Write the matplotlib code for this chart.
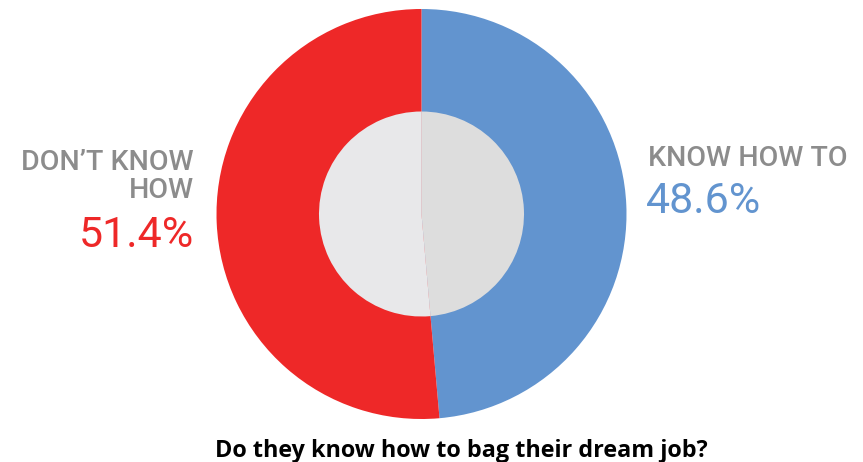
import matplotlib
matplotlib.use('Agg')
import matplotlib.pyplot as plt

labels = ["KNOW HOW TO", "DON\u2019T KNOW\nHOW"]
shares = [48.6, 51.4]
ring_colors = ["#6294CF", "#EE2828"]
hole_colors = ["#DDDDDD", "#E8E8EA"]
title = "Do they know how to bag their dream job?"

fig = plt.figure(figsize=(8.63, 4.62), dpi=100)
ax = fig.add_axes([0, 0, 1, 1])

cx, cy = 421.5, 214
# y axis is inverted below, so angles are mirrored: start at -90 going
# counter-clockwise in data space = top, clockwise on screen
ax.pie(shares, colors=ring_colors, startangle=-90, counterclock=True,
       radius=205, center=(cx, cy), frame=True,
       wedgeprops=dict(linewidth=0))
ax.pie(shares, colors=hole_colors, startangle=-90, counterclock=True,
       radius=102.5, center=(cx, cy), frame=True,
       wedgeprops=dict(linewidth=0))
ax.set_xlim(0, 863)
ax.set_ylim(462, 0)
ax.set_aspect('equal')
ax.axis('off')

gray = "#8C8C8C"
ax.text(648, 166, labels[0], color=gray, fontsize=20.5, family="Roboto",
        fontweight="medium", ha="left", va="baseline")
ax.text(646, 213, f"{shares[0]}%", color=ring_colors[0], fontsize=31,
        family="Roboto", ha="left", va="baseline")

ax.text(194, 198, labels[1], color=gray, fontsize=20.5, family="Roboto",
        fontweight="medium", ha="right", va="baseline", linespacing=1.05,
        multialignment="right")
ax.text(194, 247, f"{shares[1]}%", color=ring_colors[1], fontsize=31,
        family="Roboto", ha="right", va="baseline")

ax.text(461, 457, title, color="black", fontsize=16.8, family="Open Sans",
        fontweight="bold", ha="center", va="baseline")

fig.savefig("out.png", dpi=100)
